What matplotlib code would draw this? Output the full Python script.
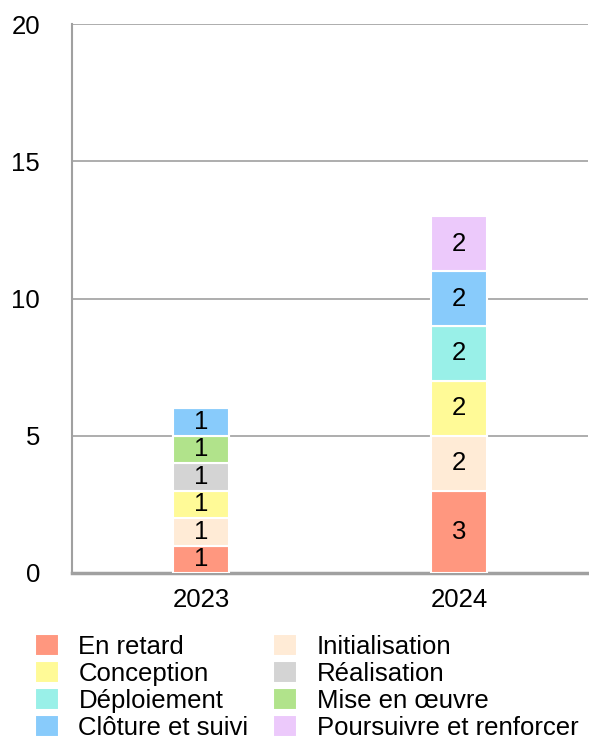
import numpy as np
import matplotlib.pyplot as plt

plt.rcParams['font.family'] = ['Liberation Sans', 'DejaVu Sans']

# data
years = ['2023', '2024']
phases = ['En retard', 'Initialisation', 'Conception', 'Réalisation',
          'Déploiement', 'Mise en œuvre', 'Clôture et suivi', 'Poursuivre et renforcer']
counts = {
    'En retard': [1, 3],
    'Initialisation': [1, 2],
    'Conception': [1, 2],
    'Réalisation': [1, 0],
    'Déploiement': [0, 2],
    'Mise en œuvre': [1, 0],
    'Clôture et suivi': [1, 2],
    'Poursuivre et renforcer': [0, 2],
}
colors = ['#FF977F', '#FFEBD6', '#FFFA97', '#D4D4D4',
          '#99F0E8', '#B1E38B', '#88CBFB', '#ECC9FB']

fs = 18.5

fig = plt.figure(figsize=(5.89, 7.42), dpi=100)
ax = fig.add_axes([72 / 589, 169 / 742, 516 / 589, 549 / 742])

x = np.arange(len(years))
bottom = np.zeros(len(years))
for name, col in zip(phases, colors):
    vals = np.array(counts[name], dtype=float)
    ax.bar(x, vals, 0.22, bottom=bottom, color=col, edgecolor='white',
           linewidth=1.5, label=name, zorder=3)
    for xi, v, b in zip(x, vals, bottom):
        if v > 0:
            ax.text(xi, b + v / 2, f'{int(v)}', ha='center', va='center',
                    fontsize=fs, zorder=4)
    bottom += vals

ax.set_xlim(-0.5, 1.5)
ax.set_ylim(0, 20)
ax.set_yticks([0, 5, 10, 15, 20])
ax.set_xticks(x)
ax.set_xticklabels(years)
ax.tick_params(axis='y', length=0, pad=23, labelsize=fs)
ax.tick_params(axis='x', length=0, pad=11, labelsize=fs)
ax.yaxis.grid(True, color='#a0a0a0', linewidth=1.2, zorder=0)
for s in ['top', 'right']:
    ax.spines[s].set_visible(False)
ax.spines['left'].set_color('#a0a0a0')
ax.spines['left'].set_linewidth(1.5)
ax.spines['bottom'].set_color('#a0a0a0')
ax.spines['bottom'].set_linewidth(2.5)

# legend reads row by row, matplotlib fills column by column
handles, labels = ax.get_legend_handles_labels()
order = [0, 2, 4, 6, 1, 3, 5, 7]
fig.legend([handles[i] for i in order], [labels[i] for i in order], ncol=2,
           loc='upper left', bbox_to_anchor=(27 / 589, 1 - 626 / 742),
           frameon=False, fontsize=fs, handlelength=0.95, handleheight=0.95,
           handletextpad=0.75, labelspacing=0.08, columnspacing=0.95,
           borderaxespad=0, borderpad=0.3)

fig.savefig('out.png', dpi=100)
